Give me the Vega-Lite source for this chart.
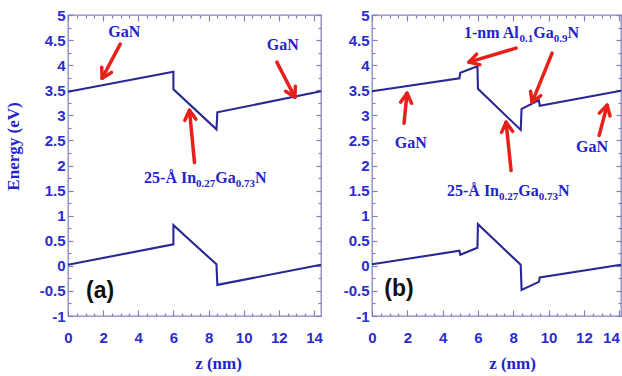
{
  "$schema": "https://vega.github.io/schema/vega-lite/v6.json",
  "padding": {"left": 3, "top": 7, "right": 0, "bottom": 0},
  "background": "white",
  "spacing": 16,
  "config": {
    "view": {"stroke": "#8686c2", "strokeWidth": 1.3},
    "axis": {
      "domain": false,
      "grid": false,
      "labelFont": "Liberation Sans Narrow, Arial Narrow, Liberation Sans, sans-serif",
      "labelFontWeight": "bold",
      "labelFontSize": 15,
      "labelColor": "#2b2bd0",
      "tickColor": "#8080c0",
      "tickWidth": 1.2,
      "titleFont": "Liberation Serif, Times New Roman, serif",
      "titleFontWeight": "bold",
      "titleFontSize": 17,
      "titleColor": "#2424cc"
    }
  },
  "datasets": {
    "bands": [
      {"panel": "a", "band": "CB", "i": 1, "z": 0, "E": 3.47},
      {"panel": "a", "band": "CB", "i": 2, "z": 6.0, "E": 3.87},
      {"panel": "a", "band": "CB", "i": 3, "z": 6.0, "E": 3.52},
      {"panel": "a", "band": "CB", "i": 4, "z": 8.45, "E": 2.72},
      {"panel": "a", "band": "CB", "i": 5, "z": 8.5, "E": 3.06},
      {"panel": "a", "band": "CB", "i": 6, "z": 14.4, "E": 3.48},
      {"panel": "a", "band": "VB", "i": 1, "z": 0, "E": 0.02},
      {"panel": "a", "band": "VB", "i": 2, "z": 6.0, "E": 0.43},
      {"panel": "a", "band": "VB", "i": 3, "z": 6.0, "E": 0.81},
      {"panel": "a", "band": "VB", "i": 4, "z": 8.45, "E": 0.03},
      {"panel": "a", "band": "VB", "i": 5, "z": 8.5, "E": -0.38},
      {"panel": "a", "band": "VB", "i": 6, "z": 14.4, "E": 0.02},
      {"panel": "b", "band": "CB", "i": 1, "z": 0, "E": 3.48},
      {"panel": "b", "band": "CB", "i": 2, "z": 4.95, "E": 3.74},
      {"panel": "b", "band": "CB", "i": 3, "z": 5.0, "E": 3.85},
      {"panel": "b", "band": "CB", "i": 4, "z": 5.97, "E": 3.98},
      {"panel": "b", "band": "CB", "i": 5, "z": 6.0, "E": 3.53},
      {"panel": "b", "band": "CB", "i": 6, "z": 8.42, "E": 2.71},
      {"panel": "b", "band": "CB", "i": 7, "z": 8.47, "E": 3.13},
      {"panel": "b", "band": "CB", "i": 8, "z": 9.45, "E": 3.3},
      {"panel": "b", "band": "CB", "i": 9, "z": 9.5, "E": 3.19},
      {"panel": "b", "band": "CB", "i": 10, "z": 14.1, "E": 3.49},
      {"panel": "b", "band": "VB", "i": 1, "z": 0, "E": 0.03},
      {"panel": "b", "band": "VB", "i": 2, "z": 4.95, "E": 0.3},
      {"panel": "b", "band": "VB", "i": 3, "z": 5.0, "E": 0.22},
      {"panel": "b", "band": "VB", "i": 4, "z": 5.97, "E": 0.36},
      {"panel": "b", "band": "VB", "i": 5, "z": 6.0, "E": 0.83},
      {"panel": "b", "band": "VB", "i": 6, "z": 8.42, "E": 0.02},
      {"panel": "b", "band": "VB", "i": 7, "z": 8.47, "E": -0.48},
      {"panel": "b", "band": "VB", "i": 8, "z": 9.45, "E": -0.32},
      {"panel": "b", "band": "VB", "i": 9, "z": 9.5, "E": -0.23},
      {"panel": "b", "band": "VB", "i": 10, "z": 14.1, "E": 0.02}
    ],
    "arrows": [
      {"panel": "a", "x": 2.971, "y": 4.42, "x2": 1.943, "y2": 3.74},
      {"panel": "a", "x": 1.943, "y": 3.74, "x2": 2.474, "y2": 3.856},
      {"panel": "a", "x": 1.943, "y": 3.74, "x2": 1.92, "y2": 3.96},
      {"panel": "a", "x": 11.886, "y": 4.06, "x2": 12.914, "y2": 3.36},
      {"panel": "a", "x": 12.914, "y": 3.36, "x2": 12.943, "y2": 3.58},
      {"panel": "a", "x": 12.914, "y": 3.36, "x2": 12.389, "y2": 3.48},
      {"panel": "a", "x": 7.2, "y": 2.06, "x2": 6.914, "y2": 3.1},
      {"panel": "a", "x": 6.914, "y": 3.1, "x2": 6.651, "y2": 2.9},
      {"panel": "a", "x": 6.914, "y": 3.1, "x2": 7.28, "y2": 2.92},
      {"panel": "b", "x": 8.159, "y": 4.34, "x2": 5.496, "y2": 4.06},
      {"panel": "b", "x": 5.496, "y": 4.06, "x2": 6.102, "y2": 4.008},
      {"panel": "b", "x": 5.496, "y": 4.06, "x2": 5.926, "y2": 4.22},
      {"panel": "b", "x": 10.198, "y": 4.24, "x2": 9.065, "y2": 3.26},
      {"panel": "b", "x": 9.065, "y": 3.26, "x2": 9.558, "y2": 3.394},
      {"panel": "b", "x": 9.065, "y": 3.26, "x2": 8.98, "y2": 3.478},
      {"panel": "b", "x": 1.813, "y": 2.84, "x2": 1.983, "y2": 3.44},
      {"panel": "b", "x": 1.983, "y": 3.44, "x2": 1.62, "y2": 3.262},
      {"panel": "b", "x": 1.983, "y": 3.44, "x2": 2.238, "y2": 3.24},
      {"panel": "b", "x": 12.861, "y": 2.6, "x2": 13.314, "y2": 3.2},
      {"panel": "b", "x": 13.314, "y": 3.2, "x2": 12.873, "y2": 3.044},
      {"panel": "b", "x": 13.314, "y": 3.2, "x2": 13.479, "y2": 2.988},
      {"panel": "b", "x": 7.875, "y": 1.9, "x2": 7.592, "y2": 2.86},
      {"panel": "b", "x": 7.592, "y": 2.86, "x2": 7.337, "y2": 2.66},
      {"panel": "b", "x": 7.592, "y": 2.86, "x2": 7.96, "y2": 2.682}
    ],
    "notes": [
      {"panel": "a", "kind": "label", "x": 3.2, "y": 4.66, "text": "GaN"},
      {"panel": "a", "kind": "label", "x": 12.23, "y": 4.4, "text": "GaN"},
      {"panel": "a", "kind": "tag", "x": 1.83, "y": -0.5, "text": "(a)"},
      {"panel": "b", "kind": "label", "x": 2.2, "y": 2.44, "text": "GaN"},
      {"panel": "b", "kind": "label", "x": 12.46, "y": 2.36, "text": "GaN"},
      {"panel": "b", "kind": "tag", "x": 1.53, "y": -0.46, "text": "(b)"}
    ],
    "formula": [
      {"panel": "a", "kind": "main", "x": 4.33, "y": 1.66, "text": "25-Å In"},
      {"panel": "a", "kind": "sub", "x": 7.29, "y": 1.66, "text": "0.27"},
      {"panel": "a", "kind": "main", "x": 8.386, "y": 1.66, "text": "Ga"},
      {"panel": "a", "kind": "sub", "x": 9.547, "y": 1.66, "text": "0.73"},
      {"panel": "a", "kind": "main", "x": 10.643, "y": 1.66, "text": "N"},
      {"panel": "b", "kind": "main", "x": 5.21, "y": 4.55, "text": "1-nm Al"},
      {"panel": "b", "kind": "sub", "x": 8.358, "y": 4.55, "text": "0.1"},
      {"panel": "b", "kind": "main", "x": 9.137, "y": 4.55, "text": "Ga"},
      {"panel": "b", "kind": "sub", "x": 10.292, "y": 4.55, "text": "0.9"},
      {"panel": "b", "kind": "main", "x": 11.071, "y": 4.55, "text": "N"},
      {"panel": "b", "kind": "main", "x": 4.247, "y": 1.4, "text": "25-Å In"},
      {"panel": "b", "kind": "sub", "x": 7.192, "y": 1.4, "text": "0.27"},
      {"panel": "b", "kind": "main", "x": 8.282, "y": 1.4, "text": "Ga"},
      {"panel": "b", "kind": "sub", "x": 9.437, "y": 1.4, "text": "0.73"},
      {"panel": "b", "kind": "main", "x": 10.527, "y": 1.4, "text": "N"}
    ]
  },
  "hconcat": [
    {
      "width": 253,
      "height": 301,
      "resolve": {"axis": {"x": "independent", "y": "independent"}},
      "layer": [
        {
          "data": {"name": "bands"},
          "transform": [{"filter": "datum.panel == 'a'"}],
          "mark": {"type": "line", "color": "#282894", "strokeWidth": 2.1},
          "encoding": {
            "x": {"field": "z", "type": "quantitative", "scale": {"domain": [0, 14.4], "nice": false, "zero": false},
              "title": "z (nm)",
              "axis": {"orient": "bottom", "values": [0,0.5,1,1.5,2,2.5,3,3.5,4,4.5,5,5.5,6,6.5,7,7.5,8,8.5,9,9.5,10,10.5,11,11.5,12,12.5,13,13.5,14],
                "labelExpr": "datum.value % 2 == 0 ? toString(datum.value) : ''",
                "tickSize": {"condition": {"test": "datum.value % 2 == 0", "value": -6}, "value": -3},
                "labelPadding": 20, "titleX": 150, "titlePadding": 10, "labelFlush": false}},
            "y": {"field": "E", "type": "quantitative", "scale": {"domain": [-1, 5], "nice": false, "zero": false},
              "title": "Energy (eV)",
              "axis": {"orient": "left", "values": [-1,-0.75,-0.5,-0.25,0,0.25,0.5,0.75,1,1.25,1.5,1.75,2,2.25,2.5,2.75,3,3.25,3.5,3.75,4,4.25,4.5,4.75,5],
                "labelExpr": "(datum.value * 2) % 1 == 0 ? toString(datum.value) : ''",
                "tickSize": {"condition": {"test": "(datum.value * 2) % 1 == 0", "value": -5}, "value": -3},
                "labelPadding": 8, "titleY": 131, "titlePadding": 17}},
            "detail": {"field": "band"},
            "order": {"field": "i"}
          }
        },
        {
          "data": {"name": "bands"},
          "transform": [{"filter": "datum.panel == 'a'"}],
          "mark": {"type": "line", "strokeOpacity": 0},
          "encoding": {
            "x": {"field": "z", "type": "quantitative", "scale": {"domain": [0, 14.4], "nice": false, "zero": false},
              "axis": {"orient": "top", "labels": false, "title": null, "values": [0,0.5,1,1.5,2,2.5,3,3.5,4,4.5,5,5.5,6,6.5,7,7.5,8,8.5,9,9.5,10,10.5,11,11.5,12,12.5,13,13.5,14],
                "tickSize": {"condition": {"test": "datum.value % 2 == 0", "value": -6}, "value": -3}}},
            "y": {"field": "E", "type": "quantitative", "scale": {"domain": [-1, 5], "nice": false, "zero": false},
              "axis": {"orient": "right", "labels": false, "title": null, "values": [-1,-0.75,-0.5,-0.25,0,0.25,0.5,0.75,1,1.25,1.5,1.75,2,2.25,2.5,2.75,3,3.25,3.5,3.75,4,4.25,4.5,4.75,5],
                "tickSize": {"condition": {"test": "(datum.value * 2) % 1 == 0", "value": -5}, "value": -3}}},
            "detail": {"field": "band"},
            "order": {"field": "i"}
          }
        },
        {
          "data": {"name": "arrows"},
          "transform": [{"filter": "datum.panel == 'a'"}],
          "mark": {"type": "rule", "color": "#e8201a", "strokeWidth": 3.5, "strokeCap": "round"},
          "encoding": {
            "x": {"field": "x", "type": "quantitative", "scale": {"domain": [0, 14.4], "nice": false, "zero": false}, "axis": null},
            "y": {"field": "y", "type": "quantitative", "scale": {"domain": [-1, 5], "nice": false, "zero": false}, "axis": null},
            "x2": {"field": "x2"},
            "y2": {"field": "y2"}
          }
        },
        {
          "data": {"name": "notes"},
          "transform": [{"filter": "datum.panel == 'a' && datum.kind == 'label'"}],
          "mark": {"type": "text", "font": "Liberation Serif, Times New Roman, serif", "fontWeight": "bold", "fontSize": 16, "color": "#2424cc", "baseline": "middle"},
          "encoding": {
            "x": {"field": "x", "type": "quantitative", "scale": {"domain": [0, 14.4], "nice": false, "zero": false}, "axis": null},
            "y": {"field": "y", "type": "quantitative", "scale": {"domain": [-1, 5], "nice": false, "zero": false}, "axis": null},
            "text": {"field": "text"}
          }
        },
        {
          "data": {"name": "formula"},
          "transform": [{"filter": "datum.panel == 'a' && datum.kind == 'main'"}],
          "mark": {"type": "text", "font": "Liberation Serif, Times New Roman, serif", "fontWeight": "bold", "fontSize": 16, "color": "#2424cc", "baseline": "alphabetic", "align": "left"},
          "encoding": {
            "x": {"field": "x", "type": "quantitative", "scale": {"domain": [0, 14.4], "nice": false, "zero": false}, "axis": null},
            "y": {"field": "y", "type": "quantitative", "scale": {"domain": [-1, 5], "nice": false, "zero": false}, "axis": null},
            "text": {"field": "text"}
          }
        },
        {
          "data": {"name": "formula"},
          "transform": [{"filter": "datum.panel == 'a' && datum.kind == 'sub'"}],
          "mark": {"type": "text", "font": "Liberation Serif, Times New Roman, serif", "fontWeight": "bold", "fontSize": 11, "color": "#2424cc", "baseline": "alphabetic", "align": "left", "dy": 4},
          "encoding": {
            "x": {"field": "x", "type": "quantitative", "scale": {"domain": [0, 14.4], "nice": false, "zero": false}, "axis": null},
            "y": {"field": "y", "type": "quantitative", "scale": {"domain": [-1, 5], "nice": false, "zero": false}, "axis": null},
            "text": {"field": "text"}
          }
        },
        {
          "data": {"name": "notes"},
          "transform": [{"filter": "datum.panel == 'a' && datum.kind == 'tag'"}],
          "mark": {"type": "text", "font": "Liberation Sans, Arial, sans-serif", "fontWeight": "bold", "fontSize": 23, "color": "#111111", "baseline": "middle"},
          "encoding": {
            "x": {"field": "x", "type": "quantitative", "scale": {"domain": [0, 14.4], "nice": false, "zero": false}, "axis": null},
            "y": {"field": "y", "type": "quantitative", "scale": {"domain": [-1, 5], "nice": false, "zero": false}, "axis": null},
            "text": {"field": "text"}
          }
        }
      ]
    },
    {
      "width": 249,
      "height": 301,
      "resolve": {"axis": {"x": "independent", "y": "independent"}},
      "layer": [
        {
          "data": {"name": "bands"},
          "transform": [{"filter": "datum.panel == 'b'"}],
          "mark": {"type": "line", "color": "#282894", "strokeWidth": 2.1},
          "encoding": {
            "x": {"field": "z", "type": "quantitative", "scale": {"domain": [0, 14.1], "nice": false, "zero": false},
              "title": "z (nm)",
              "axis": {"orient": "bottom", "values": [0,0.5,1,1.5,2,2.5,3,3.5,4,4.5,5,5.5,6,6.5,7,7.5,8,8.5,9,9.5,10,10.5,11,11.5,12,12.5,13,13.5,14],
                "labelExpr": "datum.value % 2 == 0 ? toString(datum.value) : ''",
                "labelAlign": {"condition": {"test": "datum.value >= 14", "value": "right"}, "value": "center"},
                "tickSize": {"condition": {"test": "datum.value % 2 == 0", "value": -6}, "value": -3},
                "labelPadding": 20, "titleX": 140, "titlePadding": 10, "labelFlush": false}},
            "y": {"field": "E", "type": "quantitative", "scale": {"domain": [-1, 5], "nice": false, "zero": false},
              "title": null,
              "axis": {"orient": "left", "values": [-1,-0.75,-0.5,-0.25,0,0.25,0.5,0.75,1,1.25,1.5,1.75,2,2.25,2.5,2.75,3,3.25,3.5,3.75,4,4.25,4.5,4.75,5],
                "labelExpr": "(datum.value * 2) % 1 == 0 ? toString(datum.value) : ''",
                "tickSize": {"condition": {"test": "(datum.value * 2) % 1 == 0", "value": -5}, "value": -3},
                "labelPadding": 8}},
            "detail": {"field": "band"},
            "order": {"field": "i"}
          }
        },
        {
          "data": {"name": "bands"},
          "transform": [{"filter": "datum.panel == 'b'"}],
          "mark": {"type": "line", "strokeOpacity": 0},
          "encoding": {
            "x": {"field": "z", "type": "quantitative", "scale": {"domain": [0, 14.1], "nice": false, "zero": false},
              "axis": {"orient": "top", "labels": false, "title": null, "values": [0,0.5,1,1.5,2,2.5,3,3.5,4,4.5,5,5.5,6,6.5,7,7.5,8,8.5,9,9.5,10,10.5,11,11.5,12,12.5,13,13.5,14],
                "tickSize": {"condition": {"test": "datum.value % 2 == 0", "value": -6}, "value": -3}}},
            "y": {"field": "E", "type": "quantitative", "scale": {"domain": [-1, 5], "nice": false, "zero": false},
              "axis": {"orient": "right", "labels": false, "title": null, "values": [-1,-0.75,-0.5,-0.25,0,0.25,0.5,0.75,1,1.25,1.5,1.75,2,2.25,2.5,2.75,3,3.25,3.5,3.75,4,4.25,4.5,4.75,5],
                "tickSize": {"condition": {"test": "(datum.value * 2) % 1 == 0", "value": -5}, "value": -3}}},
            "detail": {"field": "band"},
            "order": {"field": "i"}
          }
        },
        {
          "data": {"name": "arrows"},
          "transform": [{"filter": "datum.panel == 'b'"}],
          "mark": {"type": "rule", "color": "#e8201a", "strokeWidth": 3.5, "strokeCap": "round"},
          "encoding": {
            "x": {"field": "x", "type": "quantitative", "scale": {"domain": [0, 14.1], "nice": false, "zero": false}, "axis": null},
            "y": {"field": "y", "type": "quantitative", "scale": {"domain": [-1, 5], "nice": false, "zero": false}, "axis": null},
            "x2": {"field": "x2"},
            "y2": {"field": "y2"}
          }
        },
        {
          "data": {"name": "notes"},
          "transform": [{"filter": "datum.panel == 'b' && datum.kind == 'label'"}],
          "mark": {"type": "text", "font": "Liberation Serif, Times New Roman, serif", "fontWeight": "bold", "fontSize": 16, "color": "#2424cc", "baseline": "middle"},
          "encoding": {
            "x": {"field": "x", "type": "quantitative", "scale": {"domain": [0, 14.1], "nice": false, "zero": false}, "axis": null},
            "y": {"field": "y", "type": "quantitative", "scale": {"domain": [-1, 5], "nice": false, "zero": false}, "axis": null},
            "text": {"field": "text"}
          }
        },
        {
          "data": {"name": "formula"},
          "transform": [{"filter": "datum.panel == 'b' && datum.kind == 'main'"}],
          "mark": {"type": "text", "font": "Liberation Serif, Times New Roman, serif", "fontWeight": "bold", "fontSize": 16, "color": "#2424cc", "baseline": "alphabetic", "align": "left"},
          "encoding": {
            "x": {"field": "x", "type": "quantitative", "scale": {"domain": [0, 14.1], "nice": false, "zero": false}, "axis": null},
            "y": {"field": "y", "type": "quantitative", "scale": {"domain": [-1, 5], "nice": false, "zero": false}, "axis": null},
            "text": {"field": "text"}
          }
        },
        {
          "data": {"name": "formula"},
          "transform": [{"filter": "datum.panel == 'b' && datum.kind == 'sub'"}],
          "mark": {"type": "text", "font": "Liberation Serif, Times New Roman, serif", "fontWeight": "bold", "fontSize": 11, "color": "#2424cc", "baseline": "alphabetic", "align": "left", "dy": 4},
          "encoding": {
            "x": {"field": "x", "type": "quantitative", "scale": {"domain": [0, 14.1], "nice": false, "zero": false}, "axis": null},
            "y": {"field": "y", "type": "quantitative", "scale": {"domain": [-1, 5], "nice": false, "zero": false}, "axis": null},
            "text": {"field": "text"}
          }
        },
        {
          "data": {"name": "notes"},
          "transform": [{"filter": "datum.panel == 'b' && datum.kind == 'tag'"}],
          "mark": {"type": "text", "font": "Liberation Sans, Arial, sans-serif", "fontWeight": "bold", "fontSize": 23, "color": "#111111", "baseline": "middle"},
          "encoding": {
            "x": {"field": "x", "type": "quantitative", "scale": {"domain": [0, 14.1], "nice": false, "zero": false}, "axis": null},
            "y": {"field": "y", "type": "quantitative", "scale": {"domain": [-1, 5], "nice": false, "zero": false}, "axis": null},
            "text": {"field": "text"}
          }
        }
      ]
    }
  ]
}
